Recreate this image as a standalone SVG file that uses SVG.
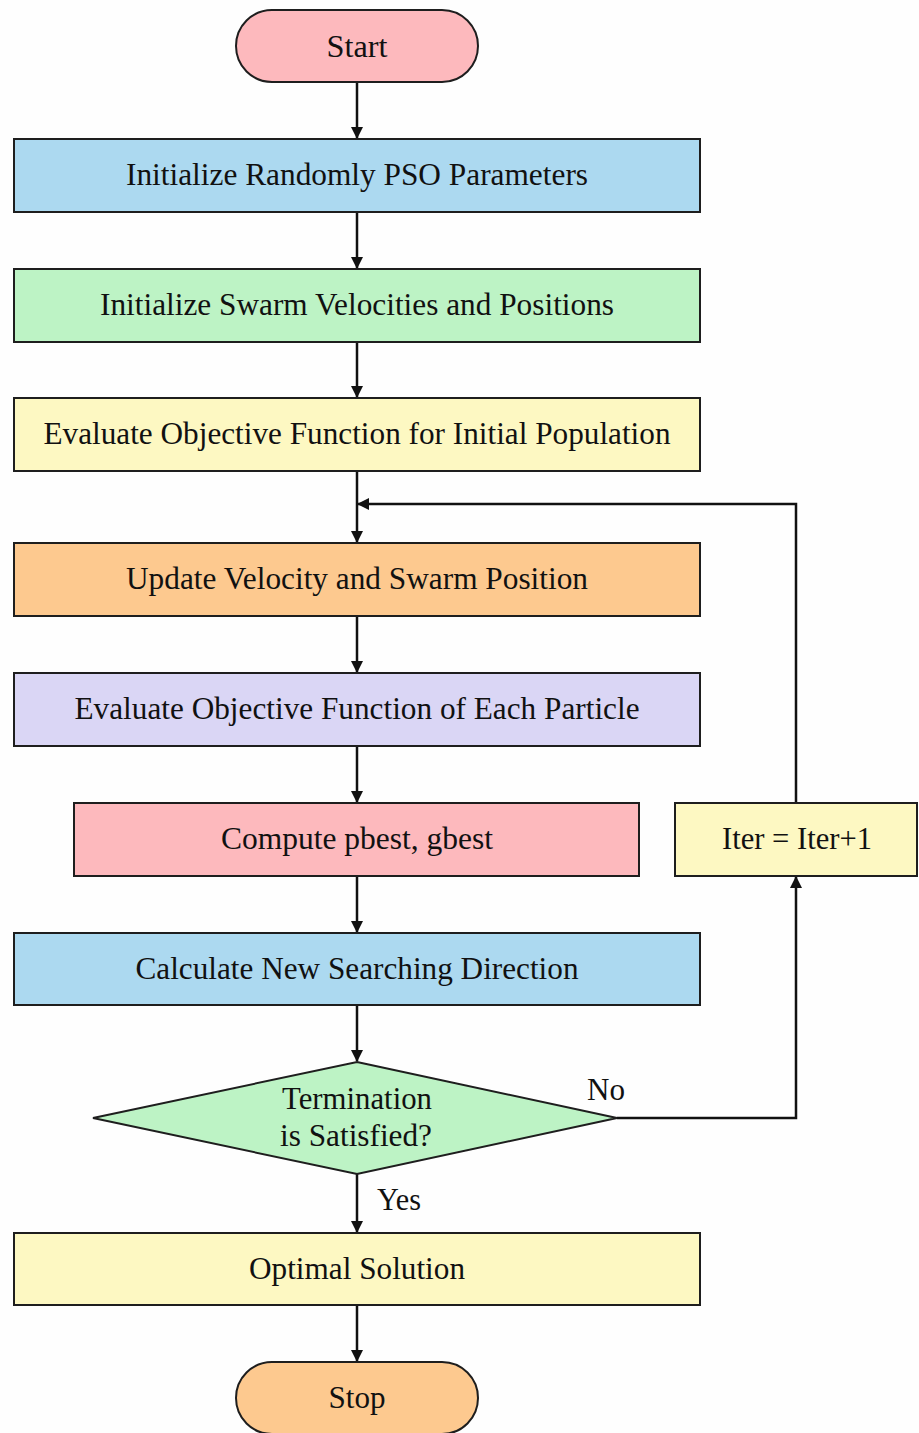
<svg xmlns="http://www.w3.org/2000/svg" width="919" height="1433" viewBox="0 0 919 1433">
<defs>
<style>
.n{stroke:#1e1e1e;stroke-width:2}
.t{font-family:'Liberation Serif','Times New Roman',Times,serif;font-size:32px;fill:#111;text-anchor:middle}
.l{fill:none;stroke:#111;stroke-width:2.5}
</style>
<marker id="ah" viewBox="0 0 12 12" refX="11" refY="6" markerWidth="12" markerHeight="12" markerUnits="userSpaceOnUse" orient="auto">
<path d="M0,0 L12,6 L0,12 Z" fill="#111"/>
</marker>
</defs>
<rect width="919" height="1433" fill="#fefefe"/>
<g id="connectors">
<line class="l" x1="357" y1="82" x2="357" y2="138" marker-end="url(#ah)"/>
<line class="l" x1="357" y1="212" x2="357" y2="268" marker-end="url(#ah)"/>
<line class="l" x1="357" y1="342" x2="357" y2="397" marker-end="url(#ah)"/>
<line class="l" x1="357" y1="471" x2="357" y2="542" marker-end="url(#ah)"/>
<line class="l" x1="357" y1="616" x2="357" y2="672" marker-end="url(#ah)"/>
<line class="l" x1="357" y1="746" x2="357" y2="802" marker-end="url(#ah)"/>
<line class="l" x1="357" y1="876" x2="357" y2="932" marker-end="url(#ah)"/>
<line class="l" x1="357" y1="1005" x2="357" y2="1061" marker-end="url(#ah)"/>
<line class="l" x1="357" y1="1174" x2="357" y2="1232" marker-end="url(#ah)"/>
<line class="l" x1="357" y1="1305" x2="357" y2="1361" marker-end="url(#ah)"/>
<polyline class="l" points="617,1118 796,1118 796,877" marker-end="url(#ah)"/>
<polyline class="l" points="796,803 796,504 358,504" marker-end="url(#ah)"/>
<text class="t" x="606" y="1100" textLength="38" lengthAdjust="spacingAndGlyphs">No</text>
<text class="t" x="399" y="1210" textLength="44" lengthAdjust="spacingAndGlyphs">Yes</text>
</g>
<g id="start">
<rect class="n" x="236" y="10" width="242" height="72" rx="36" fill="#fdb9bd"/>
<text class="t" x="357" y="57" textLength="61" lengthAdjust="spacingAndGlyphs">Start</text>
</g>
<g id="init-params">
<rect class="n" x="14" y="139" width="686" height="73" fill="#acd9f0"/>
<text class="t" x="357" y="185" textLength="462" lengthAdjust="spacingAndGlyphs">Initialize Randomly PSO Parameters</text>
</g>
<g id="init-swarm">
<rect class="n" x="14" y="269" width="686" height="73" fill="#bdf3c5"/>
<text class="t" x="357" y="315" textLength="514" lengthAdjust="spacingAndGlyphs">Initialize Swarm Velocities and Positions</text>
</g>
<g id="eval-initial">
<rect class="n" x="14" y="398" width="686" height="73" fill="#fdf8c2"/>
<text class="t" x="357" y="444" textLength="627" lengthAdjust="spacingAndGlyphs">Evaluate Objective Function for Initial Population</text>
</g>
<g id="update">
<rect class="n" x="14" y="543" width="686" height="73" fill="#fdc98f"/>
<text class="t" x="357" y="589" textLength="462" lengthAdjust="spacingAndGlyphs">Update Velocity and Swarm Position</text>
</g>
<g id="eval-each">
<rect class="n" x="14" y="673" width="686" height="73" fill="#dad6f5"/>
<text class="t" x="357" y="719" textLength="565" lengthAdjust="spacingAndGlyphs">Evaluate Objective Function of Each Particle</text>
</g>
<g id="compute">
<rect class="n" x="74" y="803" width="565" height="73" fill="#fdb9bd"/>
<text class="t" x="357" y="849" textLength="272" lengthAdjust="spacingAndGlyphs">Compute pbest, gbest</text>
</g>
<g id="iter">
<rect class="n" x="675" y="803" width="242" height="73" fill="#fdf8c2"/>
<text class="t" x="797" y="849" textLength="150" lengthAdjust="spacingAndGlyphs">Iter = Iter+1</text>
</g>
<g id="calc-direction">
<rect class="n" x="14" y="933" width="686" height="72" fill="#acd9f0"/>
<text class="t" x="357" y="979" textLength="443" lengthAdjust="spacingAndGlyphs">Calculate New Searching Direction</text>
</g>
<g id="termination">
<polygon class="n" points="357,1062 617,1118 357,1174 93,1118" fill="#bdf3c5"/>
<text class="t" x="357" y="1109" textLength="150" lengthAdjust="spacingAndGlyphs">Termination</text>
<text class="t" x="356" y="1146" textLength="152" lengthAdjust="spacingAndGlyphs">is Satisfied?</text>
</g>
<g id="optimal">
<rect class="n" x="14" y="1233" width="686" height="72" fill="#fdf8c2"/>
<text class="t" x="357" y="1279" textLength="216" lengthAdjust="spacingAndGlyphs">Optimal Solution</text>
</g>
<g id="stop">
<rect class="n" x="236" y="1362" width="242" height="72" rx="36" fill="#fdc98f"/>
<text class="t" x="357" y="1408" textLength="57" lengthAdjust="spacingAndGlyphs">Stop</text>
</g>
</svg>
